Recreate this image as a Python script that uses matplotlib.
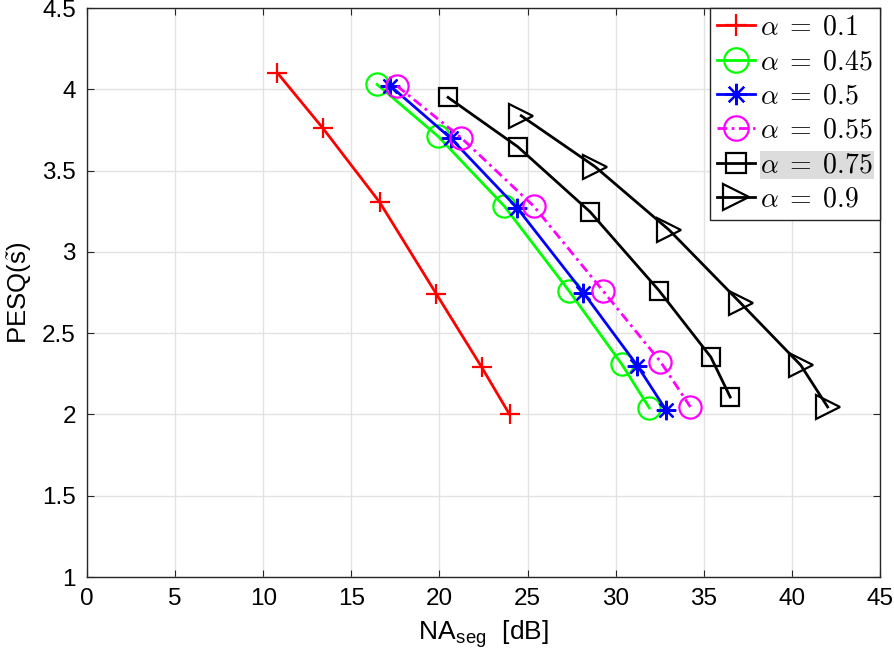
import matplotlib
matplotlib.use("Agg")
import matplotlib.pyplot as plt

plt.rcParams['font.family'] = ['Liberation Sans', 'DejaVu Sans']
plt.rcParams['mathtext.fontset'] = 'cm'

labels = [r'$\alpha\;=\;0.1$', r'$\alpha\;=\;0.45$', r'$\alpha\;=\;0.5$',
          r'$\alpha\;=\;0.55$', r'$\alpha\;=\;0.75$', r'$\alpha\;=\;0.9$']

x_01 = [10.81, 13.39, 16.61, 19.83, 22.40, 23.98]
y_01 = [4.10, 3.76, 3.305, 2.74, 2.29, 2.00]

x_045 = [16.46, 19.93, 23.69, 27.35, 30.34, 31.91]
y_045 = [4.03, 3.71, 3.28, 2.76, 2.31, 2.04]

x_05 = [17.22, 20.63, 24.41, 28.16, 31.23, 32.84]
y_05 = [4.02, 3.70, 3.27, 2.75, 2.30, 2.03]

x_055 = [17.60, 21.25, 25.36, 29.28, 32.54, 34.24]
y_055 = [4.02, 3.70, 3.28, 2.76, 2.325, 2.046]

x_075 = [20.49, 24.45, 28.54, 32.46, 35.40, 36.50]
y_075 = [3.95, 3.646, 3.247, 2.762, 2.353, 2.107]

x_09 = [24.64, 28.83, 33.03, 37.10, 40.51, 42.03]
y_09 = [3.837, 3.524, 3.135, 2.684, 2.302, 2.046]

xticks = [0, 5, 10, 15, 20, 25, 30, 35, 40, 45]
yticks = [1, 1.5, 2, 2.5, 3, 3.5, 4, 4.5]

fig = plt.figure(figsize=(8.94, 6.68), dpi=100)
ax = fig.add_axes([87/894, 1-577/668, (880-87)/894, (577-8)/668])

lw = 2.0
mew = 1.6
ax.plot(x_01, y_01, '-', color=(1, 0, 0), lw=lw, marker='+', ms=15, mew=mew, label=labels[0])
ax.plot(x_045, y_045, '-', color=(0, 1, 0), lw=lw, marker='o', ms=16, mew=mew, mfc='none', label=labels[1])
ax.plot(x_05, y_05, '-', color=(0, 0, 1), lw=lw, marker=(8, 2, 0), ms=14, mew=mew, label=labels[2])
ax.plot(x_055, y_055, '-.', color=(1, 0, 1), lw=lw, dashes=(3.5, 1.6, 1, 1.6),
        marker='o', ms=16, mew=mew, mfc='none', label=labels[3])
ax.plot(x_075, y_075, '-', color='k', lw=lw, marker='s', ms=12.5, mew=mew, mfc='none', label=labels[4])
ax.plot(x_09, y_09, '-', color='k', lw=lw, marker='>', ms=17, mew=mew, mfc='none', label=labels[5])

ax.set_xlim(0, 45)
ax.set_ylim(1, 4.5)
ax.set_xticks(xticks)
ax.set_yticks(yticks)
ax.set_xticklabels([str(t) for t in xticks])
ax.set_yticklabels(['1', '1.5', '2', '2.5', '3', '3.5', '4', '4.5'])
ax.grid(True, color='#e3e3e3', lw=1.0)
ax.set_axisbelow(True)
for s in ax.spines.values():
    s.set_color('#262626')
    s.set_linewidth(1.0)
ax.tick_params(direction='in', length=5, width=0.8, color='#262626',
               labelsize=17.5, top=True, right=True, pad=8)

ax.set_xlabel(r'NA$_{\mathregular{seg}}$  [dB]', fontsize=19, labelpad=6)
ax.set_ylabel(r'PESQ($\tilde{\mathregular{s}}$)', fontsize=18.5, labelpad=6)

leg = ax.legend(loc='upper right', fontsize=20, handlelength=1.35, handletextpad=0.2,
                borderpad=0.25, labelspacing=0.3, borderaxespad=0.0, markerscale=1.1,
                fancybox=False, framealpha=1, edgecolor='#262626')
leg.get_frame().set_linewidth(1.0)
leg.get_texts()[4].set_bbox(dict(facecolor='#dcdcdc', edgecolor='none', pad=0.5))

fig.savefig('out.png', dpi=100)
